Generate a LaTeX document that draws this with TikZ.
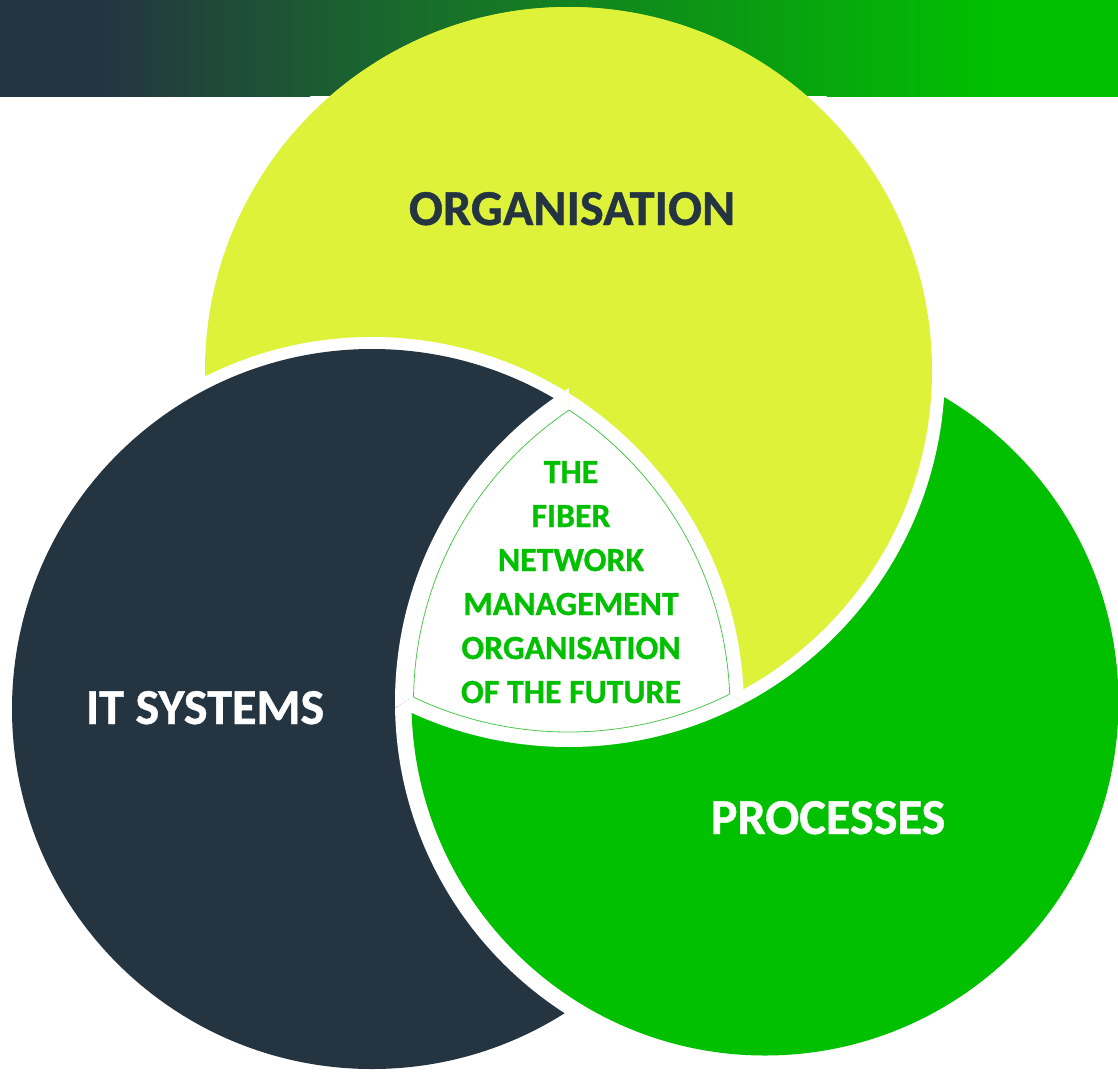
\documentclass[tikz,border=0pt]{standalone}
\usepackage{fontspec}
\setmainfont{Carlito}[BoldFeatures={FakeBold=0.8}]
\definecolor{navy}{HTML}{243441}
\definecolor{lime}{HTML}{DFF23A}
\definecolor{vgreen}{HTML}{00C000}
\definecolor{bgreen}{HTML}{1A672E}
\definecolor{outlgreen}{HTML}{4CC84C}
\pgfdeclarehorizontalshading{bannershade}{100bp}{color(0bp)=(navy); color(29.5bp)=(navy); color(42bp)=(bgreen); color(69.7bp)=(vgreen); color(100bp)=(vgreen)}
\newcommand\yband{\begin{scope}\clip (-500,96) rectangle (1600,1500);\fill[bandstyle] (Yc) circle[radius=376.5pt] (Yc) circle[radius=363pt];\end{scope}}
\newcommand\yfill{\fill[ydisk] (Yc) circle[radius=363.5pt];}
\newcommand\dband{\fill[bandstyle] (Dc) circle[radius=372pt] (Dc) circle[radius=359.5pt];}
\newcommand\dfill{\fill[ddisk] (Dc) circle[radius=360pt];}
\newcommand\gband{\fill[bandstyle] (Gc) circle[radius=370pt] (Gc) circle[radius=353pt];}
\newcommand\gfill{\fill[gdisk] (Gc) circle[radius=353.5pt];}
\begin{document}
\begin{tikzpicture}[x=1pt,y=-1pt,
  bandstyle/.style={fill=white, even odd rule},
  ydisk/.style={fill=lime},
  ddisk/.style={fill=navy},
  gdisk/.style={fill=vgreen},
  outl/.style={draw=outlgreen, line width=0.8pt},
  bigtxt/.style={font=\bfseries\fontsize{50.3}{56}\selectfont, anchor=base, inner sep=0pt},
  midtxt/.style={font=\bfseries\fontsize{33.8}{38}\selectfont, text=vgreen, anchor=base, inner sep=0pt}]
\useasboundingbox (0,0) rectangle (1118,1073);
% banner
\shade[shading=bannershade] (0,0) rectangle (1118,96);
% centres
\coordinate (Yc) at (568.5,370.5);
\coordinate (Dc) at (372,709);
\coordinate (Gc) at (765,702);
\coordinate (c) at (571,600);
% base layer (removes seams along sector borders)
\yfill\dfill\gfill
% sector A (left): Y < D < G
\begin{scope}
\clip (c) -- (561,-360) -- (-400,-360) -- (-400,1090) -- (-226.5,1090) -- cycle;
\yband\yfill\dband\dfill\gband\gfill
\end{scope}
% sector B (bottom): D < G < Y
\begin{scope}
\clip (c) -- (-226.5,1090) -- (-226.5,1200) -- (1376,1200) -- (1376,1075) -- cycle;
\dband\dfill\gband\gfill\yband\yfill
\end{scope}
% sector C (right): G < Y < D
\begin{scope}
\clip (c) -- (1376,1075) -- (1500,1075) -- (1500,-360) -- (561,-360) -- cycle;
\gband\gfill\yband\yfill\dband\dfill
\end{scope}
% centre region
\begin{scope}
\clip (Yc) circle[radius=365pt];
\clip (Dc) circle[radius=361.5pt];
\fill[white] (Gc) circle[radius=355pt];
\end{scope}
\begin{scope}
\clip (Dc) circle[radius=358pt];
\clip (Gc) circle[radius=351.5pt];
\draw[outl] (Yc) circle[radius=361.5pt];
\end{scope}
\begin{scope}
\clip (Yc) circle[radius=361.5pt];
\clip (Gc) circle[radius=351.5pt];
\draw[outl] (Dc) circle[radius=358pt];
\end{scope}
\begin{scope}
\clip (Yc) circle[radius=361.5pt];
\clip (Dc) circle[radius=358pt];
\draw[outl] (Gc) circle[radius=351.5pt];
\end{scope}
% labels
\node[bigtxt, text=navy] (org) at (572,225) {ORGANISATION};
\node[bigtxt, text=white] (its) at (205,724) {IT SYSTEMS};
\node[bigtxt, text=white] (proc) at (828,834) {PROCESSES};
\node[midtxt] (m1) at (571,483) {THE};
\node[midtxt] (m2) at (571,527) {FIBER};
\node[midtxt] (m3) at (571,571) {NETWORK};
\node[midtxt] (m4) at (571,615) {MANAGEMENT};
\node[midtxt] (m5) at (571,659) {ORGANISATION};
\node[midtxt] (m6) at (571,703) {OF THE FUTURE};
\end{tikzpicture}
\end{document}
